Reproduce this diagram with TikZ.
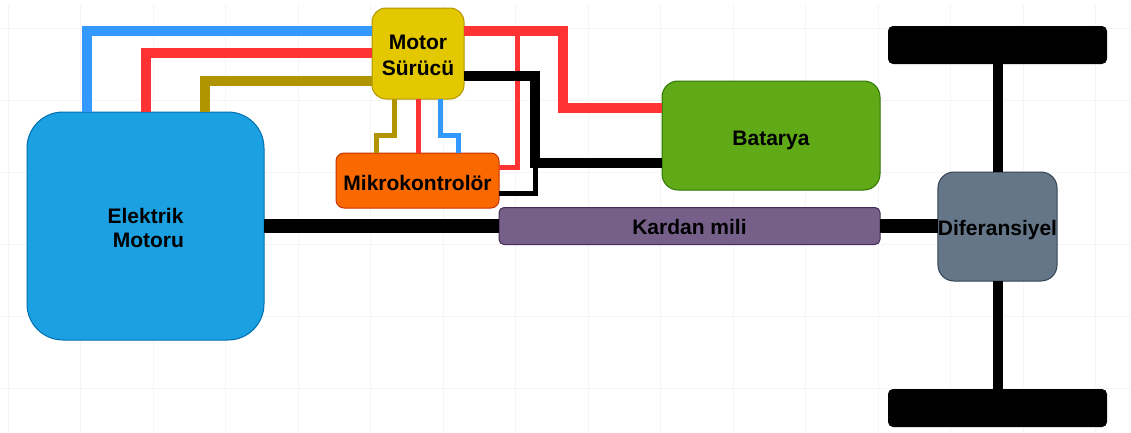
\documentclass[tikz,border=0pt]{standalone}
\usepackage{fontspec}
\setmainfont{Liberation Sans}
\definecolor{wblue}{HTML}{3399FF}
\definecolor{wred}{HTML}{FF3333}
\definecolor{wgold}{HTML}{B09500}
\definecolor{gridc}{HTML}{F5F5F5}
\definecolor{motorf}{HTML}{1BA1E2}
\definecolor{motord}{HTML}{006EAF}
\definecolor{surucuf}{HTML}{E3C800}
\definecolor{mikrof}{HTML}{FA6800}
\definecolor{mikrod}{HTML}{C73500}
\definecolor{bataryaf}{HTML}{60A917}
\definecolor{bataryad}{HTML}{2D7600}
\definecolor{kardanf}{HTML}{76608A}
\definecolor{kardand}{HTML}{432D57}
\definecolor{diff}{HTML}{647687}
\definecolor{difd}{HTML}{314354}
\begin{document}
\begin{tikzpicture}[x=1pt,y=-1pt,
  box/.style={draw,line width=1pt,inner sep=0pt,outer sep=0pt,align=center,
    font=\fontsize{21}{24}\selectfont\bfseries},
  wheel/.style={fill=black,rounded corners=5pt,inner sep=0pt,outer sep=0pt,
    minimum width=219pt,minimum height=38pt},
  shaft/.style={line width=14pt,black},
  axle/.style={line width=10pt,black},
  fat/.style={line width=10pt},
  slim/.style={line width=5pt}]
 \useasboundingbox (0,0) rectangle (1131,432);

% Grid
 \foreach \gx in {0,...,15} \draw[gridc,line width=0.8pt] (8+72.5*\gx,4) -- (8+72.5*\gx,432);
 \foreach \gy in {0,...,5} \draw[gridc,line width=0.8pt] (0,28+72*\gy) -- (1131,28+72*\gy);

% Blocks (the rules only push the text down a little)
 \node[box,fill=motorf,draw=motord,rounded corners=36pt,minimum width=237pt,minimum height=228pt] (motor) at (145.5,226) {\rule{0pt}{20pt}Elektrik\\ \ Motoru};
 \node[box,fill=surucuf,draw=wgold,rounded corners=14pt,minimum width=92pt,minimum height=91pt] (surucu) at (418,53.5) {\rule{0pt}{19pt}Motor\\[2pt]Sürücü};
 \node[box,fill=mikrof,draw=mikrod,rounded corners=8pt,minimum width=163pt,minimum height=55pt] (mikro) at (417.5,180.5) {\rule{0pt}{20pt}Mikrokontrolör};
 \node[box,fill=bataryaf,draw=bataryad,rounded corners=16pt,minimum width=218pt,minimum height=109pt] (batarya) at (771,135.5) {\rule{0pt}{25pt}Batarya};
 \node[box,fill=kardanf,draw=kardand,rounded corners=5pt,minimum width=381pt,minimum height=37pt] (kardan) at (689.5,226) {\rule{0pt}{17pt}Kardan mili};
 \node[box,fill=diff,draw=difd,rounded corners=16pt,minimum width=119pt,minimum height=109pt] (dif) at (997.5,226.5) {\rule{0pt}{22pt}Diferansiyel};
 \node[wheel] (ontek) at (997.5,45) {};
 \node[wheel] (arkatek) at (997.5,408) {};

% Motor wires
 \draw[fat,wblue] ([yshift=22.5pt]surucu.west) -| ([xshift=-58.5pt]motor.north);
 \draw[fat,wred] ([yshift=0.5pt]surucu.west) -| ([xshift=0.5pt]motor.north);
 \draw[fat,wgold] ([yshift=-27.5pt]surucu.west) -| ([xshift=59pt]motor.north);

% Control wires
 \draw[slim,wgold] ([xshift=-24pt]surucu.south) |- (376,135) -- (376,153);
 \draw[slim,wred] (surucu.south) -- (surucu.south |- mikro.north);
 \draw[slim,wblue] ([xshift=22pt]surucu.south) |- (458,135) -- (458,153);

% Battery wires
 \draw[slim,wred] (517,31) |- ([yshift=13.5pt]mikro.east);
 \draw[slim,black] ([yshift=-12.5pt]mikro.east) -| (535,163);
 \draw[fat,wred] ([yshift=22.5pt]surucu.east) -| (563,108) -- ([yshift=27.5pt]batarya.west);
 \draw[fat,black] ([yshift=-22.5pt]surucu.east) -| (535,163) -- ([yshift=-27.5pt]batarya.west);

% Drive line
 \draw[shaft] (motor.east) -- (kardan.west);
 \draw[shaft] (kardan.east) -- (dif.west |- kardan.east);
 \draw[axle] (ontek) -- (dif.north);
 \draw[axle] (dif.south) -- (arkatek);
\end{tikzpicture}
\end{document}
